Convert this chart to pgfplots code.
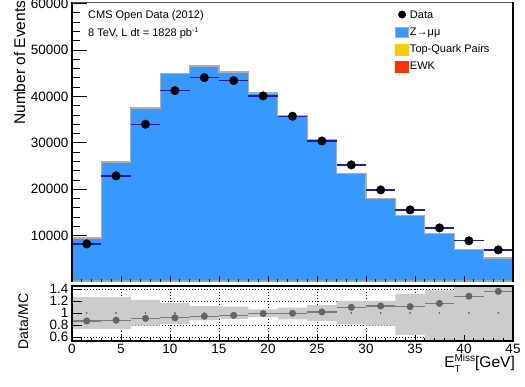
\documentclass[border=0pt]{standalone}
\usepackage{pgfplots}
\pgfplotsset{compat=1.18}
\usepackage{pgfplotstable}
\usepackage{fontspec}
\setmainfont{Liberation Sans}

\definecolor{zblue}{RGB}{55,153,255}
\definecolor{topyel}{RGB}{255,204,0}
\definecolor{ewkred}{RGB}{255,51,0}
\definecolor{histline}{RGB}{175,175,175}
\definecolor{errblue}{RGB}{30,30,160}
\definecolor{bandgray}{RGB}{204,204,204}
\definecolor{ratiomark}{RGB}{100,100,100}
\definecolor{framegray}{RGB}{90,90,90}

\newcommand{\ticklabfont}{\fontsize{13.5bp}{15bp}\selectfont}
\newcommand{\smallfont}{\fontsize{11bp}{13bp}\selectfont}
\newcommand{\titlefont}{\fontsize{15.5bp}{18bp}\selectfont}
\newcommand{\ratiotitlefont}{\fontsize{14bp}{16bp}\selectfont}

% MC stack (bin low edge, total, top+ewk, ewk); last row repeats the last bin
\pgfplotstableread{
x tot top ewk
0 9500 300 80
3 25880 300 80
6 37520 300 80
9 44850 300 80
12 46570 300 80
15 45280 300 80
18 40750 300 80
21 35900 300 80
24 30630 300 80
27 23300 300 80
30 17910 300 80
33 14250 300 80
36 10370 300 80
39 6920 300 80
42 5190 300 80
45 5190 300 80
}\mctable

\pgfplotstableread{
x y ex
1.5 8210 1.5
4.5 22870 1.5
7.5 34000 1.5
10.5 41250 1.5
13.5 44050 1.5
16.5 43400 1.5
19.5 40100 1.5
22.5 35730 1.5
25.5 30400 1.5
28.5 25240 1.5
31.5 19850 1.5
34.5 15540 1.5
37.5 11660 1.5
40.5 8870 1.5
43.5 6920 1.5
}\datatable

\pgfplotstableread{
x r ex one
1.5 0.867 1.5 1
4.5 0.880 1.5 1
7.5 0.910 1.5 1
10.5 0.920 1.5 1
13.5 0.945 1.5 1
16.5 0.960 1.5 1
19.5 0.990 1.5 1
22.5 0.995 1.5 1
25.5 1.017 1.5 1
28.5 1.095 1.5 1
31.5 1.117 1.5 1
34.5 1.106 1.5 1
37.5 1.160 1.5 1
40.5 1.280 1.5 1
43.5 1.360 1.5 1
}\ratiotable

\begin{document}
\begin{tikzpicture}
\useasboundingbox (0bp,0bp) rectangle (525bp,387bp);

\begin{axis}[
  scale only axis, width=441bp, height=280bp,
  at={(72bp,105bp)}, anchor=south west,
  xmin=0, xmax=45, ymin=0, ymax=60345,
  xtick={0,5,...,45}, minor x tick num=4, xticklabels={},
  ytick={10000,20000,30000,40000,50000,60000}, minor y tick num=4,
  scaled y ticks=false,
  yticklabel style={/pgf/number format/1000 sep={}, font=\ticklabfont},
  /pgf/number format/assume math mode=true,
  tick align=inside, xtick pos=left, ytick pos=left,
  xtick style={/pgfplots/major tick length=6bp, /pgfplots/minor tick length=3bp, black, line width=0.8bp},
  ytick style={/pgfplots/major tick length=15bp, /pgfplots/minor tick length=7.5bp, black, line width=0.8bp},
  separate axis lines,
  x axis line style={draw=none},
  y axis line style={black, line width=1.5bp},
  axis on top,
  legend style={at={(axis description cs:0.7324,0.974)}, anchor=north west,
    draw=none, fill=none, font=\smallfont, inner sep=0pt, row sep=4.5bp,
    nodes={inner sep=1bp, text height=8bp, text depth=2.5bp}},
  legend cell align=left,
]
\addplot[const plot, fill=zblue, draw=none, forget plot] table[x=x, y=tot] {\mctable} \closedcycle;
\addplot[const plot, fill=topyel, draw=none, forget plot] table[x=x, y=top] {\mctable} \closedcycle;
\addplot[const plot, fill=ewkred, draw=none, forget plot] table[x=x, y=ewk] {\mctable} \closedcycle;
\addplot[const plot, draw=histline, line width=1.2bp, forget plot] table[x=x, y=tot] {\mctable};
\addplot[only marks, mark=*, mark size=4.3pt, black, forget plot,
  error bars/.cd, x dir=both, x explicit, error mark=none,
  error bar style={errblue, line width=1.3bp}]
  table[x=x, y=y, x error=ex] {\datatable};
\draw[framegray, line width=2bp] (rel axis cs:0,1) -- (rel axis cs:1,1);

\addlegendimage{legend image code/.code={\fill[black] (6.5bp,1.2bp) circle (3.7bp);}}
\addlegendentry{Data}
\addlegendimage{legend image code/.code={\draw[fill=zblue, draw=histline, line width=0.8bp] (0bp,-5bp) rectangle (13bp,5.3bp);}}
\addlegendentry{Z→μμ}
\addlegendimage{legend image code/.code={\fill[topyel] (0bp,-5bp) rectangle (13bp,5.3bp);}}
\addlegendentry{Top-Quark Pairs}
\addlegendimage{legend image code/.code={\fill[ewkred] (0bp,-5bp) rectangle (13bp,5.3bp);}}
\addlegendentry{EWK}
\end{axis}

\begin{axis}[
  scale only axis, width=441bp, height=55bp,
  at={(72bp,46bp)}, anchor=south west,
  xmin=0, xmax=45, ymin=0.533, ymax=1.45,
  xtick={0,5,...,45}, minor x tick num=4,
  ytick={0.6,0.8,1,1.2,1.4},
  xticklabel style={font=\ticklabfont},
  yticklabel style={font=\ticklabfont},
  /pgf/number format/assume math mode=true,
  tick align=inside, xtick pos=left, ytick pos=left,
  xtick style={/pgfplots/major tick length=6bp, /pgfplots/minor tick length=3bp, black, line width=0.8bp},
  ytick style={/pgfplots/major tick length=10bp, /pgfplots/minor tick length=5bp, black, line width=0.8bp},
  axis line style={black, line width=1.5bp},
  axis on top,
]
% dotted grid (drawn first so the band covers it)
\draw[black, line width=0.8bp, dash pattern=on 1bp off 2bp] (axis cs:5,0.533) -- (axis cs:5,1.45);
\draw[black, line width=0.8bp, dash pattern=on 1bp off 2bp] (axis cs:10,0.533) -- (axis cs:10,1.45);
\draw[black, line width=0.8bp, dash pattern=on 1bp off 2bp] (axis cs:15,0.533) -- (axis cs:15,1.45);
\draw[black, line width=0.8bp, dash pattern=on 1bp off 2bp] (axis cs:20,0.533) -- (axis cs:20,1.45);
\draw[black, line width=0.8bp, dash pattern=on 1bp off 2bp] (axis cs:25,0.533) -- (axis cs:25,1.45);
\draw[black, line width=0.8bp, dash pattern=on 1bp off 2bp] (axis cs:30,0.533) -- (axis cs:30,1.45);
\draw[black, line width=0.8bp, dash pattern=on 1bp off 2bp] (axis cs:35,0.533) -- (axis cs:35,1.45);
\draw[black, line width=0.8bp, dash pattern=on 1bp off 2bp] (axis cs:40,0.533) -- (axis cs:40,1.45);
\draw[black, line width=0.8bp, dash pattern=on 1bp off 2bp] (axis cs:0,0.6) -- (axis cs:45,0.6);
\draw[black, line width=0.8bp, dash pattern=on 1bp off 2bp] (axis cs:0,0.8) -- (axis cs:45,0.8);
\draw[black, line width=0.8bp, dash pattern=on 1bp off 2bp] (axis cs:0,1.0) -- (axis cs:45,1.0);
\draw[black, line width=0.8bp, dash pattern=on 1bp off 2bp] (axis cs:0,1.2) -- (axis cs:45,1.2);
\draw[black, line width=0.8bp, dash pattern=on 1bp off 2bp] (axis cs:0,1.4) -- (axis cs:45,1.4);
% MC uncertainty band (upper edge left to right, lower edge right to left)
\addplot[fill=bandgray, draw=none, forget plot] coordinates {
 (0,1.27) (6,1.27) (6,1.217) (9,1.217) (9,1.17) (12,1.17) (12,1.117) (15,1.117)
 (15,1.105) (18,1.105) (18,1.06) (21,1.06) (21,1.09) (24,1.09) (24,1.13) (27,1.13)
 (27,1.2) (33,1.2) (33,1.32) (36,1.32) (36,1.38) (39,1.38) (39,1.6) (45,1.6)
 (45,0.4) (36,0.4) (36,0.63) (33,0.63) (33,0.79) (30,0.79) (30,0.81) (27,0.81)
 (27,0.87) (24,0.87) (24,0.895) (21,0.895) (21,0.93) (18,0.93) (18,0.90) (15,0.90)
 (15,0.883) (12,0.883) (12,0.82) (9,0.82) (9,0.788) (6,0.788) (6,0.735) (0,0.735)
};
\addplot[only marks, mark=*, mark size=3.3pt, ratiomark, forget plot,
  error bars/.cd, x dir=both, x explicit, error mark=none,
  error bar style={ratiomark!85, line width=1.3bp}]
  table[x=x, y=r, x error=ex] {\ratiotable};
\addplot[only marks, mark=*, mark size=0.7pt, ratiomark, forget plot] table[x=x, y=one] {\ratiotable};
\end{axis}

\node[rotate=90, anchor=base east, inner sep=0pt, font=\titlefont] at (25bp,386.5bp) {Number of Events};
\node[rotate=90, anchor=base, inner sep=0pt, font=\ratiotitlefont] at (28bp,65.5bp) {Data/MC};
\node[anchor=base east, inner sep=0pt, font=\titlefont] at (515bp,20bp)
  {E\rlap{\raisebox{-5.5bp}{\fontsize{10bp}{10bp}\selectfont T}}\raisebox{5.8bp}{\fontsize{10bp}{10bp}\selectfont Miss}[GeV]};
\node[anchor=base west, inner sep=0pt, font=\smallfont] at (88bp,368bp) {CMS Open Data (2012)};
\node[anchor=base west, inner sep=0pt, font=\smallfont] at (88bp,350.3bp)
  {8 TeV, L dt = 1828 pb\raisebox{4.5bp}{\fontsize{7bp}{8bp}\selectfont -1}};
\end{tikzpicture}
\end{document}
